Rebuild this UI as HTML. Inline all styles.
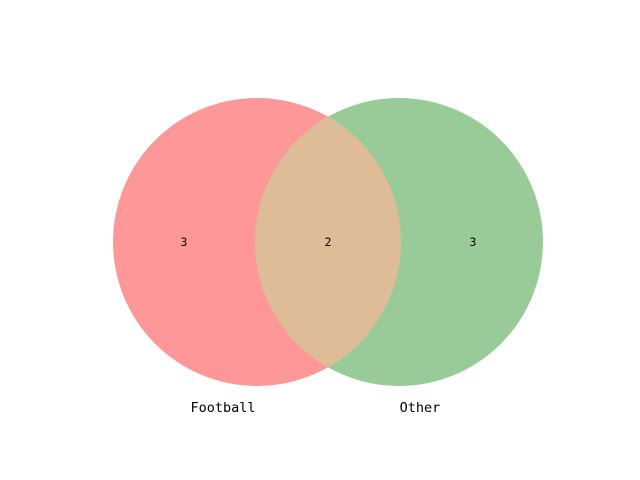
<!DOCTYPE html>
<html><head><meta charset="utf-8">
<style>
html,body{margin:0;padding:0;background:#fff;}
svg{display:block;}
text{font-family:"DejaVu Sans Mono","Liberation Mono",monospace;fill:#000;}
</style></head>
<body>
<svg id="chart" width="640" height="480" viewBox="0 0 640 480" xmlns="http://www.w3.org/2000/svg"></svg>
<script>
const setLabels = ["Football", "Other"];
const regionCounts = [3, 2, 3]; // only-A, A∩B, only-B

const NS = "http://www.w3.org/2000/svg";
const svg = document.getElementById("chart");
const cy = 242, r = 144, cxA = 257, cxB = 399;
function mk(tag, attrs){const e=document.createElementNS(NS,tag);for(const k in attrs)e.setAttribute(k,attrs[k]);svg.appendChild(e);return e;}

const defs = mk("defs",{});
const cp = document.createElementNS(NS,"clipPath");
cp.setAttribute("id","clipA");
const cc = document.createElementNS(NS,"circle");
cc.setAttribute("cx",cxA);cc.setAttribute("cy",cy);cc.setAttribute("r",r);
cp.appendChild(cc);defs.appendChild(cp);

const a = mk("circle",{cx:cxA,cy:cy,r:r,fill:"#fe9898"});


const b = mk("circle",{cx:cxB,cy:cy,r:r,fill:"#99cb99"});


const ab = mk("circle",{cx:cxB,cy:cy,r:r,fill:"#dfbc98","clip-path":"url(#clipA)"});



const regionX = [184, 328, 473];
const regionNames = ["football-only-count","intersection-count","other-only-count"];
regionCounts.forEach((v,i)=>{
  const t = mk("text",{x:regionX[i],y:cy+4,"text-anchor":"middle","font-size":"11.5"});
  t.textContent = v;
  
  
});

const labelX = [223, 420];
const labelNames = ["football-set-label","other-set-label"];
setLabels.forEach((s,i)=>{
  const t = mk("text",{x:labelX[i],y:412,"text-anchor":"middle","font-size":"13.5"});
  t.textContent = s;
  
  
});
</script>
</body></html>
